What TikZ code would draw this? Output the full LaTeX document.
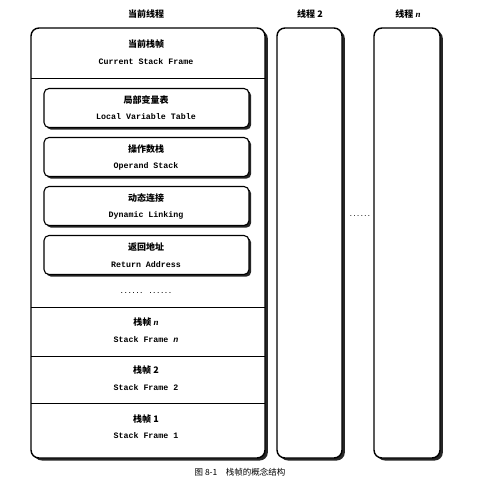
\documentclass[tikz,border=0pt]{standalone}
\usepackage{fontspec}
\newfontfamily\cjk{Noto Sans CJK SC}
\newfontfamily\mono{Liberation Mono}
\newfontfamily\ital{Liberation Serif}
\newcommand{\varn}{{\ital\itshape n}}
\usetikzlibrary{shadows}
\begin{document}
\begin{tikzpicture}[x=1pt,y=-1pt,
  outerbox/.style={draw, line width=1.4pt, rounded corners=8pt, fill=white, inner sep=0pt, outer sep=0pt,
    drop shadow={shadow xshift=2.8pt, shadow yshift=-2.5pt, fill=black, opacity=0.85}},
  innerbox/.style={draw, line width=1.1pt, rounded corners=5pt, fill=white, inner sep=0pt, outer sep=0pt,
    minimum width=205pt, minimum height=39pt,
    drop shadow={shadow xshift=2.2pt, shadow yshift=-2.2pt, fill=black, opacity=0.85}},
  zh/.style={font=\cjk\bfseries\fontsize{9}{10}\selectfont, inner sep=0pt},
  en/.style={font=\mono\bfseries\fontsize{8.3}{9}\selectfont, inner sep=0pt},
  sep/.style={line width=0.9pt}]
\useasboundingbox (0,0) rectangle (488,494);
% titles
\node[zh] (t0) at (146,14) {当前线程};
\node[zh] (t2t) at (310,14) {线程 2};
\node[zh] (tnt) at (408,14) {线程 \varn};
% thread boxes
\node[outerbox, minimum width=234pt, minimum height=430pt] (main) at (148,243) {};
\node[outerbox, minimum width=65pt, minimum height=430pt] (t2) at (309.5,243) {};
\node[outerbox, minimum width=66pt, minimum height=430pt] (tn) at (407,243) {};
\node[font=\mono\bfseries\fontsize{6}{7}\selectfont, inner sep=0pt] (mid) at (360,216) {......};
% current frame
\node[zh] (cf1) at (146,44) {当前栈帧};
\node[en] (cf2) at (146,62) {Current Stack Frame};
\draw[sep] (main.west |- 0,78) -- (main.east |- 0,78);
% inner boxes
\node[innerbox] (b1) at (146.5,108) {};
\node[zh] (b1a) at (146,100) {局部变量表};
\node[en] (b1b) at (146,117) {Local Variable Table};
\node[innerbox] (b2) at (146.5,157) {};
\node[zh] (b2a) at (146,149) {操作数栈};
\node[en] (b2b) at (146,166) {Operand Stack};
\node[innerbox] (b3) at (146.5,206) {};
\node[zh] (b3a) at (146,198) {动态连接};
\node[en] (b3b) at (146,215) {Dynamic Linking};
\node[innerbox] (b4) at (146.5,255) {};
\node[zh] (b4a) at (146,247) {返回地址};
\node[en] (b4b) at (146,265) {Return Address};
\node[font=\mono\bfseries\fontsize{6.5}{7}\selectfont, inner sep=0pt] (dots) at (146,293) {...... ......};
% lower frames
\draw[sep] (main.west |- 0,307) -- (main.east |- 0,307);
\node[zh] (fn1) at (146,322) {栈帧 \varn};
\node[en] (fn2) at (146,340) {Stack Frame \textit{n}};
\draw[sep] (main.west |- 0,356) -- (main.east |- 0,356);
\node[zh] (f21) at (146,370) {栈帧 2};
\node[en] (f22) at (146,388) {Stack Frame 2};
\draw[sep] (main.west |- 0,403) -- (main.east |- 0,403);
\node[zh] (f11) at (146,419) {栈帧 1};
\node[en] (f12) at (146,436) {Stack Frame 1};
% caption
\node[inner sep=0pt, font=\cjk\fontsize{8.5}{10}\selectfont] (cap) at (240,472) {图 8-1\quad 栈帧的概念结构};
\end{tikzpicture}
\end{document}
